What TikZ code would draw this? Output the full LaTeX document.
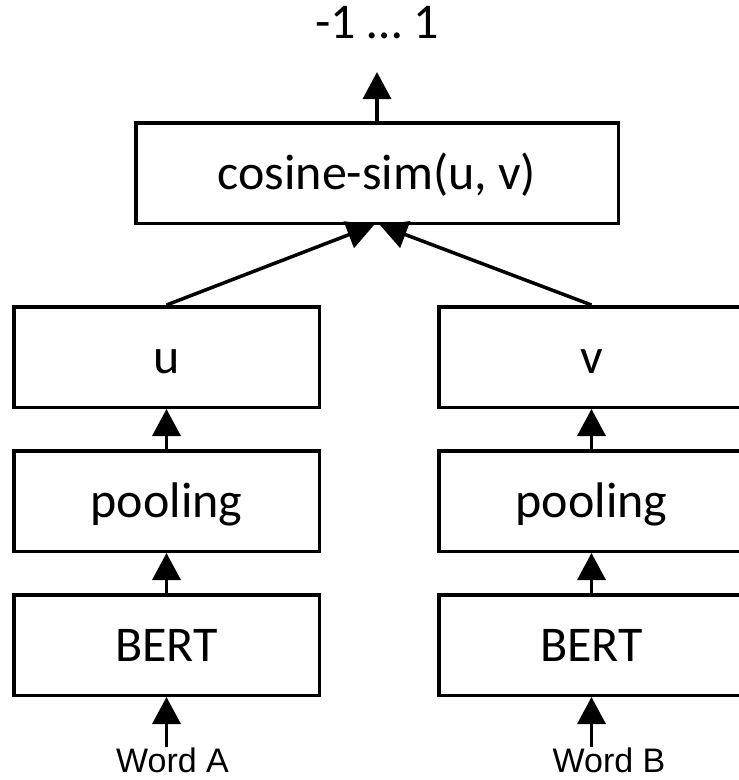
\documentclass[tikz,border=0pt]{standalone}
\usepackage{fontspec}
\setmainfont{Carlito}
\newfontfamily\wordfont{Liberation Sans}
\usetikzlibrary{positioning,arrows.meta}

\begin{document}
\begin{tikzpicture}[x=1pt,y=1pt,node distance=40pt,
  box/.style={draw,line width=3.5pt,minimum width=305.5pt,minimum height=100.5pt,inner sep=0pt,
    text height=32pt,text depth=0pt,font=\fontsize{50}{60}\selectfont},
  arr/.style={line width=3.5pt,-{Triangle[width=28pt,length=27pt]}},
  word/.style={font=\wordfont\fontsize{34}{40}\selectfont,inner sep=0pt,anchor=base}]
  \clip (0,0) rectangle (739,-780);

  % left tower
  \node[box] (bertA) at (166.5,-645) {BERT};
  \node[box] (poolA) [above=of bertA] {pooling};
  \node[box] (u) [above=of poolA] {u};

  % right tower
  \node[box] (bertB) at (591.5,-645) {BERT};
  \node[box] (poolB) [above=of bertB] {pooling};
  \node[box] (v) [above=of poolB] {v};

  \node[box,minimum width=482.5pt] (cos) at (377,-173) {cosine-sim(u, v)};
  \node[anchor=base,inner sep=0pt,font=\fontsize{50}{60}\selectfont] (out) at (377,-38) {-1 … 1};
  \coordinate (outtip) at (377,-72);

  \node[word] (wordA) at (172.5,-772) {Word A};
  \node[word] (wordB) at (609,-772) {Word B};

  \draw[arr] (bertA.south |- wordA.north) -- (bertA.south);
  \draw[arr] (bertB.south |- wordB.north) -- (bertB.south);
  \draw[arr] (bertA) -- (poolA);
  \draw[arr] (bertB) -- (poolB);
  \draw[arr] (poolA) -- (u);
  \draw[arr] (poolB) -- (v);
  \draw[arr] (u.north) -- ([xshift=-3pt]cos.south);
  \draw[arr] (v.north) -- ([xshift=3pt]cos.south);
  \draw[arr] (cos.north) -- (outtip);
\end{tikzpicture}
\end{document}
